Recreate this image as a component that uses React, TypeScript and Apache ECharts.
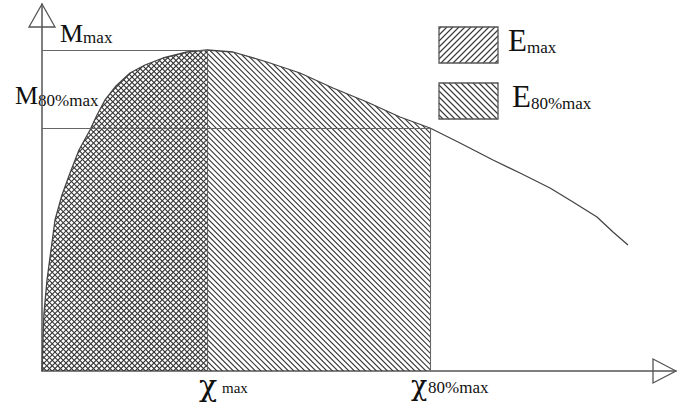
import React, { useEffect, useRef } from 'react';
import * as echarts from 'echarts';

// Curve: displacement χ (x) vs moment M (y)
const chiValues = [0, 1, 2, 5, 9, 13, 20, 28, 37, 48, 55, 63, 74, 88, 103, 121, 145, 165, 191, 225, 258, 291, 325, 358, 388, 418, 451, 478, 508, 531, 555, 571, 586];
const momentValues = [0, 31, 58, 91, 121, 151, 176, 198, 221, 241, 256, 271, 285, 298, 306, 313, 319, 321, 319, 309, 298, 283, 269, 254, 243, 228, 211, 198, 183, 169, 154, 139, 126];

const CHI_MAX = 165;
const CHI_80 = 388;
const M_MAX = 321;
const M_80 = 243;
const X_AXIS_MAX = 634;
const Y_AXIS_MAX = 367;

// Hatched energy regions: end of region, hatch direction (1 = "\", -1 = "/")
const regionEnds = [CHI_80, CHI_MAX];
const regionDirs = [1, -1];

const FONT = '"Liberation Serif", "Times New Roman", "DejaVu Serif", serif';
const GREEK_FONT = '"DejaVu Serif", "Liberation Serif", serif';
const INK = '#383838';

function curveAt(x: number): number {
  for (let i = 1; i < chiValues.length; i++) {
    if (x <= chiValues[i]) {
      const t = (x - chiValues[i - 1]) / (chiValues[i] - chiValues[i - 1]);
      return momentValues[i - 1] + t * (momentValues[i] - momentValues[i - 1]);
    }
  }
  return momentValues[momentValues.length - 1];
}

function rectHatch(x0: number, y0: number, w: number, h: number, s: number, dir: number) {
  const x1 = x0 + w;
  const y1 = y0 + h;
  const out: any[] = [];
  const style = { stroke: INK, lineWidth: 1.1 };
  if (dir > 0) {
    for (let c = Math.floor((y0 - x1) / s) * s; c <= y1 - x0; c += s) {
      const xa = Math.max(x0, y0 - c);
      const xb = Math.min(x1, y1 - c);
      if (xb > xa) out.push({ type: 'line', shape: { x1: xa, y1: xa + c, x2: xb, y2: xb + c }, style });
    }
  } else {
    for (let c = Math.floor((x0 + y0) / s) * s; c <= x1 + y1; c += s) {
      const xa = Math.max(x0, c - y1);
      const xb = Math.min(x1, c - y0);
      if (xb > xa) out.push({ type: 'line', shape: { x1: xa, y1: c - xa, x2: xb, y2: c - xb }, style });
    }
  }
  return out;
}

function label(x: number, baseline: number, main: string, sub: string, fMain: number, fSub: number) {
  return {
    type: 'text',
    x,
    y: baseline,
    style: {
      text: `{a|${main}}{b|${sub}}`,
      align: 'left',
      verticalAlign: 'bottom',
      textAlign: 'left',
      textVerticalAlign: 'bottom',
      fill: '#111',
      rich: {
        a: { fontFamily: FONT, fontSize: fMain, lineHeight: Math.round(fMain * 0.62), verticalAlign: 'bottom', fill: '#111' },
        b: { fontFamily: FONT, fontSize: fSub, lineHeight: Math.round(fSub * 0.64), verticalAlign: 'bottom', fill: '#111' },
      },
    },
  };
}

function plainText(x: number, yMid: number, text: string, size: number, family: string) {
  return {
    type: 'text',
    x,
    y: yMid,
    style: {
      text,
      align: 'left',
      verticalAlign: 'middle',
      textAlign: 'left',
      textVerticalAlign: 'middle',
      fontFamily: family,
      fontSize: size,
      fill: '#111',
    },
  };
}

function legendBox(x: number, y: number, dir: number) {
  return {
    type: 'group',
    children: [
      ...rectHatch(x, y, 59, 36, 6, dir),
      { type: 'rect', shape: { x, y, width: 59, height: 36 }, style: { fill: 'none', stroke: '#555', lineWidth: 1.3 } },
    ],
  };
}

export default function App() {
  const ref = useRef<HTMLDivElement>(null);

  useEffect(() => {
    if (!ref.current) return;
    const chart = echarts.init(ref.current, null, { renderer: 'svg' });
    const HATCH = 5.5;

    const option: any = {
      animation: false,
      backgroundColor: '#ffffff',
      grid: { left: 42, right: 9, top: 4, bottom: 36, containLabel: false },
      xAxis: {
        type: 'value',
        min: 0,
        max: X_AXIS_MAX,
        axisLine: { show: true, onZero: false, lineStyle: { color: '#555', width: 1.5 } },
        axisTick: { show: false },
        axisLabel: { show: false },
        splitLine: { show: false },
      },
      yAxis: {
        type: 'value',
        min: 0,
        max: Y_AXIS_MAX,
        axisLine: { show: true, onZero: false, lineStyle: { color: '#555', width: 1.5 } },
        axisTick: { show: false },
        axisLabel: { show: false },
        splitLine: { show: false },
      },
      series: [
        {
          type: 'custom',
          z: 1,
          silent: true,
          data: regionEnds.map((e, i) => [e, regionDirs[i]]),
          renderItem: (params: any, api: any) => {
            const xEnd = api.value(0) as number;
            const dir = api.value(1) as number;
            const pts: number[][] = [api.coord([0, 0])];
            for (let i = 0; i < chiValues.length; i++) {
              if (chiValues[i] < xEnd) pts.push(api.coord([chiValues[i], momentValues[i]]));
            }
            pts.push(api.coord([xEnd, curveAt(xEnd)]));
            pts.push(api.coord([xEnd, 0]));
            const xs = pts.map((p) => p[0]);
            const ys = pts.map((p) => p[1]);
            const minX = Math.min(...xs) - 2;
            const maxX = Math.max(...xs) + 2;
            const minY = Math.min(...ys) - 2;
            const maxY = Math.max(...ys) + 2;
            let d = '';
            const s = HATCH;
            if (dir > 0) {
              for (let c = Math.floor((minY - maxX) / s) * s; c <= maxY - minX; c += s) {
                d += `M${minX.toFixed(2)} ${(minX + c).toFixed(2)}L${maxX.toFixed(2)} ${(maxX + c).toFixed(2)}`;
              }
            } else {
              for (let c = Math.floor((minY + minX) / s) * s; c <= maxY + maxX; c += s) {
                d += `M${minX.toFixed(2)} ${(c - minX).toFixed(2)}L${maxX.toFixed(2)} ${(c - maxX).toFixed(2)}`;
              }
            }
            return {
              type: 'path',
              shape: { pathData: d },
              style: { fill: 'none', stroke: INK, lineWidth: 1.15 },
              clipPath: { type: 'polygon', shape: { points: pts } },
            };
          },
        },
        {
          type: 'line',
          z: 3,
          silent: true,
          data: chiValues.map((x, i) => [x, momentValues[i]]),
          symbol: 'none',
          showSymbol: false,
          lineStyle: { color: '#444', width: 1.3 },
          markLine: {
            silent: true,
            symbol: ['none', 'none'],
            label: { show: false },
            emphasis: { disabled: true },
            lineStyle: { color: '#666', width: 1.1, type: 'solid' },
            data: [
              [{ coord: [0, M_MAX] }, { coord: [CHI_MAX, M_MAX] }],
              [{ coord: [0, M_80] }, { coord: [CHI_80, M_80] }],
              [{ coord: [CHI_MAX, 0] }, { coord: [CHI_MAX, M_MAX] }],
              [{ coord: [CHI_80, 0] }, { coord: [CHI_80, M_80] }],
            ],
          },
        },
      ],
      graphic: [
        { type: 'polygon', shape: { points: [[42, 4], [29, 27], [55, 27]] }, style: { fill: 'none', stroke: '#555', lineWidth: 1.3 } },
        { type: 'polygon', shape: { points: [[676, 371], [653, 359], [653, 383]] }, style: { fill: 'none', stroke: '#555', lineWidth: 1.3 } },
        legendBox(439, 27, -1),
        legendBox(439, 83, 1),
        label(60, 46, 'M', 'max', 26, 17),
        label(15, 108.5, 'M', '80%max', 26, 17),
        label(508, 56, 'E', 'max', 31, 17),
        label(512, 112, 'E', '80%max', 31, 17),
        plainText(199, 385, 'χ', 30, GREEK_FONT),
        plainText(222, 388, 'max', 15, FONT),
        plainText(411, 385, 'χ', 27, GREEK_FONT),
        plainText(428, 387.5, '80%max', 17, FONT),
      ],
    };

    chart.setOption(option);
    return () => chart.dispose();
  }, []);

  return (
    <div
      ref={ref}
      style={{ position: 'fixed', left: 0, top: 0, width: 685, height: 407, background: '#fff' }}
    />
  );
}
